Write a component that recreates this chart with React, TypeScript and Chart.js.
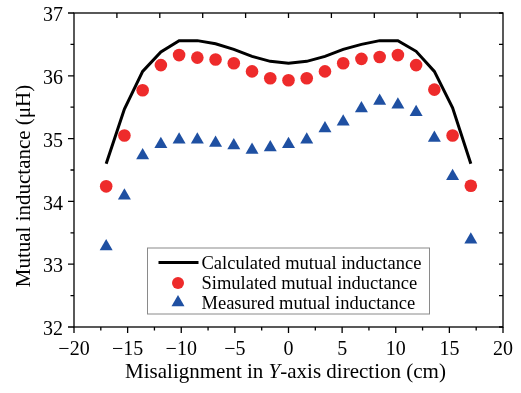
import React, { useEffect, useRef } from "react";
import { Chart, registerables } from "chart.js";

Chart.register(...registerables);

const misalignment = [-17, -15.3, -13.6, -11.9, -10.2, -8.5, -6.8, -5.1, -3.4, -1.7, 0, 1.7, 3.4, 5.1, 6.8, 8.5, 10.2, 11.9, 13.6, 15.3, 17];
const calculatedM = [34.6, 35.47, 36.07, 36.38, 36.56, 36.56, 36.51, 36.42, 36.31, 36.23, 36.2, 36.23, 36.31, 36.42, 36.5, 36.56, 36.56, 36.39, 36.07, 35.49, 34.6];
const simulatedM = [34.24, 35.05, 35.77, 36.17, 36.33, 36.29, 36.26, 36.2, 36.07, 35.96, 35.93, 35.96, 36.07, 36.2, 36.27, 36.3, 36.33, 36.17, 35.78, 35.05, 34.25];
const measuredM = [33.28, 34.09, 34.73, 34.91, 34.98, 34.98, 34.93, 34.89, 34.82, 34.86, 34.91, 34.98, 35.16, 35.27, 35.48, 35.6, 35.54, 35.42, 35.01, 34.4, 33.39];

const xTickValues = [-20, -15, -10, -5, 0, 5, 10, 15, 20];
const yTickValues = [32, 33, 34, 35, 36, 37];
const seriesLabels = ["Calculated mutual inductance", "Simulated mutual inductance", "Measured mutual inductance"];
const xTitleParts = ["Misalignment in ", "Y", "-axis direction (cm)"];
const yTitle = "Mutual inductance (\u03bcH)";

const SERIF = '"Liberation Serif", "Times New Roman", serif';
const RED = "#EE2B2B";
const BLUE = "#1F50A2";

const fmt = (v: number) => (v < 0 ? "\u2212" + Math.abs(v) : String(v));

const decorPlugin = {
  id: "decor",
  afterDraw(chart: any) {
    const { ctx, chartArea: a, scales } = chart;
    const xs = scales.x;
    const ys = scales.y;
    ctx.save();
    ctx.strokeStyle = "#000";
    ctx.lineWidth = 1.3;
    ctx.strokeRect(a.left, a.top, a.right - a.left, a.bottom - a.top);
    ctx.beginPath();
    for (let i = 0; i <= 16; i++) {
      const v = -20 + i * 2.5;
      const px = xs.getPixelForValue(v);
      const len = i % 2 === 0 ? 6 : 3.5;
      ctx.moveTo(px, a.bottom);
      ctx.lineTo(px, a.bottom + len);
    }
    for (let i = 0; i <= 10; i++) {
      const v = 32 + i * 0.5;
      const py = ys.getPixelForValue(v);
      const len = i % 2 === 0 ? 6 : 3.5;
      ctx.moveTo(a.left, py);
      ctx.lineTo(a.left - len, py);
      ctx.moveTo(a.right, py);
      ctx.lineTo(a.right - 4, py);
    }
    for (let v = -16; v <= 16; v += 4) {
      const px = xs.getPixelForValue(v);
      ctx.moveTo(px, a.top);
      ctx.lineTo(px, a.top + 5);
    }
    ctx.stroke();

    // Y title
    ctx.fillStyle = "#000";
    ctx.save();
    ctx.translate(24, a.top + 173);
    ctx.rotate(-Math.PI / 2);
    ctx.font = `21px ${SERIF}`;
    ctx.textAlign = "center";
    ctx.textBaseline = "middle";
    ctx.fillText(yTitle, 0, 0);
    ctx.restore();

    // X title with italic Y
    const fN = `21px ${SERIF}`;
    const fI = `italic 21px ${SERIF}`;
    ctx.font = fN;
    const w0 = ctx.measureText(xTitleParts[0]).width;
    const w2 = ctx.measureText(xTitleParts[2]).width;
    ctx.font = fI;
    const w1 = ctx.measureText(xTitleParts[1]).width;
    const total = w0 + w1 + w2;
    let tx = (a.left + a.right) / 2 - 3 - total / 2;
    const ty = a.bottom + 51;
    ctx.textAlign = "left";
    ctx.textBaseline = "alphabetic";
    ctx.font = fN;
    ctx.fillText(xTitleParts[0], tx, ty);
    tx += w0;
    ctx.font = fI;
    ctx.fillText(xTitleParts[1], tx, ty);
    tx += w1;
    ctx.font = fN;
    ctx.fillText(xTitleParts[2], tx, ty);

    // Legend
    const bx = a.left + 73.5;
    const by = a.top + 235;
    const bw = 282;
    const bh = 66;
    ctx.fillStyle = "#fff";
    ctx.fillRect(bx, by, bw, bh);
    ctx.strokeStyle = "#8a8a8a";
    ctx.lineWidth = 1;
    ctx.strokeRect(bx, by, bw, bh);
    const rows = [by + 14.5, by + 35, by + 54.5];
    const mx = bx + 30.5;
    ctx.strokeStyle = "#000";
    ctx.lineWidth = 3;
    ctx.beginPath();
    ctx.moveTo(bx + 11, rows[0]);
    ctx.lineTo(bx + 51, rows[0]);
    ctx.stroke();
    ctx.fillStyle = RED;
    ctx.beginPath();
    ctx.arc(mx, rows[1], 6, 0, Math.PI * 2);
    ctx.fill();
    const r = 7.5;
    ctx.fillStyle = BLUE;
    ctx.beginPath();
    ctx.moveTo(mx, rows[2] - r);
    ctx.lineTo(mx + r * Math.sin((2 * Math.PI) / 3), rows[2] + r / 2);
    ctx.lineTo(mx - r * Math.sin((2 * Math.PI) / 3), rows[2] + r / 2);
    ctx.closePath();
    ctx.fill();
    ctx.fillStyle = "#000";
    ctx.font = `18.5px ${SERIF}`;
    ctx.textAlign = "left";
    ctx.textBaseline = "alphabetic";
    const labels = chart.data.datasets.map((d: any) => d.label);
    labels.forEach((lab: string, i: number) => {
      ctx.fillText(lab, bx + 54, rows[i] + 6);
    });
    ctx.restore();
  },
};

export default function App() {
  const ref = useRef<HTMLCanvasElement | null>(null);
  useEffect(() => {
    if (!ref.current) return;
    const toPts = (ys: number[]) => misalignment.map((x, i) => ({ x, y: ys[i] }));
    const chart = new Chart(ref.current, {
      type: "scatter",
      data: {
        datasets: [
          {
            label: seriesLabels[0],
            data: toPts(calculatedM),
            showLine: true,
            borderColor: "#000",
            borderWidth: 3,
            pointRadius: 0,
            tension: 0,
            order: 0,
          },
          {
            label: seriesLabels[1],
            data: toPts(simulatedM),
            showLine: false,
            pointStyle: "circle",
            pointRadius: 6.3,
            backgroundColor: RED,
            borderWidth: 0,
            order: 1,
          },
          {
            label: seriesLabels[2],
            data: toPts(measuredM),
            showLine: false,
            pointStyle: "triangle",
            pointRadius: 7.5,
            backgroundColor: BLUE,
            borderWidth: 0,
            order: 2,
          },
        ],
      },
      options: {
        responsive: false,
        animation: false,
        layout: { padding: { top: 13, right: 18, left: 0, bottom: 0 } },
        plugins: { legend: { display: false }, tooltip: { enabled: false }, title: { display: false } },
        scales: {
          x: {
            type: "linear",
            min: -20,
            max: 20,
            afterFit: (s: any) => {
              s.height = 66;
              s.paddingLeft = 0;
              s.paddingRight = 0;
            },
            afterBuildTicks: (s: any) => {
              s.ticks = xTickValues.map((v) => ({ value: v }));
            },
            grid: { display: false, drawTicks: false },
            border: { display: false },
            ticks: {
              callback: (v: any) => fmt(Number(v)),
              font: { family: SERIF, size: 20 },
              color: "#000",
              padding: 11,
              maxRotation: 0,
            },
          },
          y: {
            type: "linear",
            min: 32,
            max: 37,
            afterFit: (s: any) => {
              s.width = 74;
              s.paddingTop = 0;
              s.paddingBottom = 0;
            },
            afterBuildTicks: (s: any) => {
              s.ticks = yTickValues.map((v) => ({ value: v }));
            },
            grid: { display: false, drawTicks: false },
            border: { display: false },
            ticks: {
              callback: (v: any) => fmt(Number(v)),
              font: { family: SERIF, size: 20 },
              color: "#000",
              padding: 11,
              labelOffset: 3,
            },
          },
        },
      },
      plugins: [decorPlugin],
    });
    return () => chart.destroy();
  }, []);
  return (
    <div style={{ position: "fixed", left: 0, top: 0, width: 521, height: 393, background: "#fff" }}>
      <canvas ref={ref} width={521} height={393} style={{ display: "block" }} />
    </div>
  );
}
